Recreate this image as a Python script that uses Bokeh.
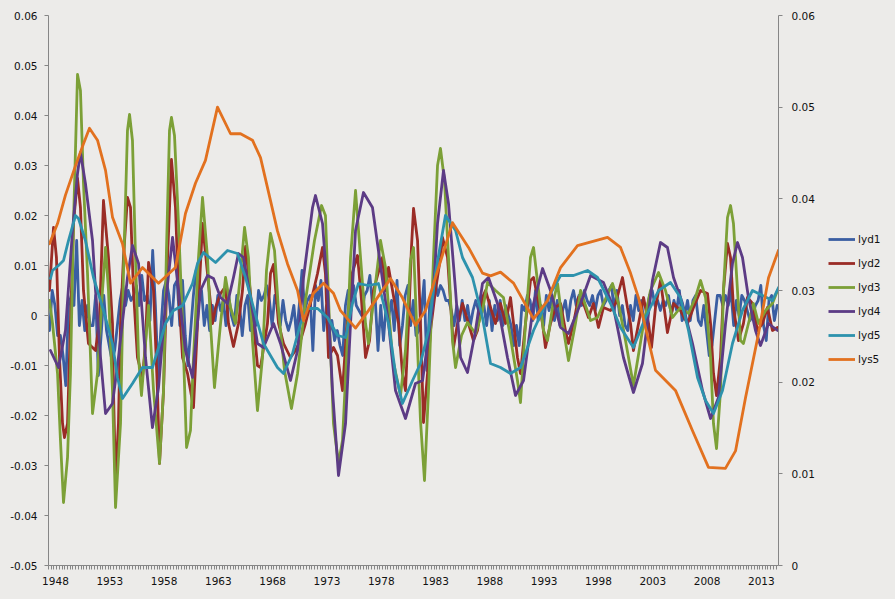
from bokeh.plotting import figure
from bokeh.layouts import row
from bokeh.models import (Range1d, LinearAxis, FixedTicker, CustomJSTickFormatter,
                          Legend, LegendItem)
from bokeh.embed import file_html
from bokeh.resources import INLINE

# ---------------- data ----------------
label_years = [1948, 1953, 1958, 1963, 1968, 1973, 1978, 1983, 1988, 1993, 1998, 2003, 2008, 2013]
left_ticks = [-0.05, -0.04, -0.03, -0.02, -0.01, 0.0, 0.01, 0.02, 0.03, 0.04, 0.05, 0.06]
right_ticks = [0.0, 0.01, 0.02, 0.03, 0.04, 0.05, 0.06]

# lyd1: quarterly, 1948Q1 .. 2015Q1
lyd1 = [
    -0.003, 0.005, 0.002, -0.004,   -0.004, -0.008, -0.014, 0.002,
    0.004, 0.002, 0.015, -0.002,    0.003, -0.003, 0.002, -0.002,
    -0.002, 0.004, -0.012, -0.004,  0.004, -0.003, -0.006, -0.009,
    -0.007, -0.002, 0.003, 0.006,   0.002, 0.005, 0.003, 0.004,
    0.006, 0.002, 0.008, 0.003,     0.004, -0.001, 0.013, 0.002,
    -0.012, -0.003, 0.005, 0.007,   0.004, -0.002, 0.006, 0.007,
    -0.002, 0.007, -0.004, -0.010,  -0.003, 0.004, 0.009, 0.005,
    0.005, -0.002, 0.002, -0.003,   0.002, -0.001, 0.004, 0.001,
    0.003, -0.002, 0.004, 0.000,    -0.002, 0.004, 0.002, -0.004,
    0.002, 0.004, -0.003, 0.001,    -0.002, 0.005, 0.003, 0.004,
    0.006, 0.003, -0.002, 0.004,    0.002, -0.002, 0.003, -0.001,
    -0.003, -0.001, 0.002, -0.004,  0.002, 0.009, 0.001, 0.003,
    0.004, -0.007, 0.006, 0.003,    0.007, -0.003, 0.002, -0.004,
    -0.001, -0.005, -0.003, -0.006, -0.008, 0.002, 0.005, 0.003,
    0.006, 0.002, 0.001, 0.000,     0.004, 0.005, 0.008, 0.002,
    0.003, -0.007, 0.002, -0.005,   0.002, 0.000, 0.003, -0.003,
    0.007, -0.006, -0.002, 0.004,   0.006, -0.002, 0.003, -0.004,
    -0.003, 0.001, 0.007, -0.011,   0.002, 0.005, 0.007, 0.004,
    0.006, 0.005, 0.003, 0.003,     0.001, -0.002, 0.002, -0.001,
    0.003, -0.001, 0.002, -0.002,   0.001, 0.003, 0.001, 0.004,
    0.002, -0.002, 0.003, -0.003,   0.002, -0.001, 0.003, -0.002,
    0.002, 0.000, -0.002, -0.006,   -0.002, -0.006, 0.002, 0.001,
    0.004, 0.003, -0.001, 0.005,    -0.001, 0.002, -0.002, 0.004,
    0.001, 0.004, -0.001, 0.003,    -0.002, 0.001, 0.003, -0.001,
    0.003, 0.005, 0.002, 0.004,     0.002, 0.005, 0.003, 0.002,
    0.004, 0.001, 0.004, 0.005,     0.002, 0.003, 0.005, 0.006,
    0.001, 0.005, 0.000, 0.002,     -0.002, -0.003, 0.002, -0.001,
    0.004, 0.001, 0.003, -0.002,    0.001, 0.004, 0.005, 0.002,
    0.003, 0.001, 0.003, 0.002,     0.004, 0.000, 0.003, 0.001,
    0.005, -0.001, 0.000, 0.003,    -0.001, 0.003, 0.004, -0.001,
    -0.002, 0.002, -0.003, -0.008,  -0.006, -0.001, 0.004, 0.004,
    0.002, 0.004, 0.002, 0.005,     -0.002, 0.003, 0.000, 0.004,
    0.003, 0.001, -0.001, 0.000,    0.002, 0.003, 0.006, -0.002,
    -0.005, 0.003, 0.004, -0.001,   0.002,
]
lyd1_t = [1948 + 0.25 * i for i in range(len(lyd1))]

lyd2_t = [1948.00, 1948.37, 1948.64, 1948.92, 1949.20, 1949.38, 1949.66, 1949.93, 1950.21, 1950.58,
          1950.85, 1951.13, 1951.59, 1952.24, 1952.60, 1952.97, 1953.43, 1953.80, 1953.89, 1954.08,
          1954.35, 1954.54, 1954.81, 1955.18, 1955.46, 1955.73, 1956.10, 1956.56, 1956.84, 1957.12,
          1957.58, 1957.94, 1958.13, 1958.50, 1958.87, 1959.23, 1959.60, 1959.88, 1960.25, 1960.71,
          1961.26, 1961.63, 1962.09, 1962.55, 1963.01, 1963.29, 1963.75, 1964.21, 1964.48, 1964.94,
          1965.40, 1965.77, 1966.05, 1966.32, 1966.78, 1967.15, 1967.43, 1968.07, 1968.35, 1968.63,
          1969.09, 1969.55, 1970.19, 1970.65, 1971.11, 1971.57, 1972.03, 1972.68, 1973.14, 1973.41,
          1973.69, 1974.15, 1974.52, 1974.98, 1975.35, 1975.81, 1976.36, 1976.73, 1977.10, 1977.47,
          1977.83, 1978.66, 1978.94, 1979.22, 1979.86, 1980.14, 1980.50, 1980.78, 1981.06, 1981.33,
          1981.52, 1981.89, 1982.16, 1982.44, 1982.81, 1983.08, 1983.54, 1984.00, 1984.19, 1984.65,
          1985.20, 1985.57, 1986.03, 1986.58, 1987.04, 1987.41, 1987.87, 1988.15, 1988.61, 1989.07,
          1989.53, 1989.99, 1990.45, 1990.73, 1991.09, 1991.37, 1991.83, 1992.29, 1992.57, 1992.94,
          1993.40, 1993.67, 1994.13, 1994.59, 1995.06, 1995.51, 1995.79, 1996.25, 1996.71, 1997.17,
          1997.63, 1998.09, 1998.55, 1999.01, 1999.66, 2000.12, 2000.76, 2001.22, 2001.50, 2001.77,
          2002.24, 2002.70, 2003.16, 2003.43, 2003.80, 2004.26, 2004.90, 2005.46, 2006.10, 2006.75,
          2007.30, 2007.95, 2008.59, 2008.87, 2009.14, 2009.42, 2009.79, 2010.06, 2010.43, 2010.71,
          2010.98, 2011.44, 2011.90, 2012.27, 2012.73, 2013.19, 2013.65, 2014.11, 2014.57, 2015.04]
lyd2 = [0.0050, 0.0176, 0.0116, -0.0084, -0.0216, -0.0244, -0.0216, -0.0016, 0.0184, 0.0274,
        0.0216, 0.0050, -0.0056, -0.0070, -0.0010, 0.0230, 0.0116, -0.0016, -0.0150, -0.0330,
        -0.0216, -0.0016, 0.0116, 0.0236, 0.0216, 0.0050, -0.0084, -0.0124, -0.0056, 0.0106,
        0.0050, -0.0150, -0.0296, -0.0150, 0.0116, 0.0312, 0.0216, 0.0050, -0.0084, -0.0116,
        -0.0184, -0.0016, 0.0184, 0.0084, -0.0016, 0.0016, 0.0044, 0.0058, -0.0016, -0.0062,
        -0.0016, 0.0050, 0.0138, 0.0084, -0.0016, -0.0100, -0.0104, -0.0016, 0.0084, 0.0102,
        -0.0016, -0.0056, -0.0084, -0.0070, -0.0050, -0.0016, 0.0024, 0.0084, 0.0136, 0.0084,
        -0.0084, -0.0064, -0.0080, -0.0150, -0.0030, 0.0080, 0.0120, 0.0030, -0.0084, -0.0050,
        0.0050, 0.0116, 0.0050, 0.0096, 0.0016, -0.0016, -0.0116, -0.0150, -0.0016, 0.0136,
        0.0214, 0.0150, -0.0016, -0.0214, -0.0116, -0.0030, 0.0050, 0.0116, 0.0156, 0.0116,
        -0.0064, -0.0016, 0.0024, -0.0016, -0.0050, -0.0030, 0.0036, 0.0050, 0.0016, -0.0016,
        0.0024, -0.0016, 0.0036, -0.0016, -0.0084, -0.0116, -0.0016, 0.0070, 0.0076, 0.0036,
        -0.0016, -0.0064, -0.0016, 0.0016, 0.0024, -0.0030, -0.0056, -0.0016, 0.0036, 0.0024,
        -0.0004, 0.0024, -0.0024, 0.0016, 0.0010, 0.0024, 0.0076, 0.0016, -0.0016, -0.0070,
        -0.0016, 0.0036, -0.0016, -0.0064, 0.0016, 0.0070, -0.0034, 0.0024, 0.0010, -0.0016,
        0.0016, 0.0050, 0.0044, -0.0016, -0.0116, -0.0160, -0.0084, 0.0050, 0.0144, 0.0116,
        0.0016, -0.0050, -0.0016, 0.0036, 0.0024, -0.0030, -0.0016, 0.0016, -0.0030, -0.0024]

lyd3_t = [1948.00, 1948.28, 1948.74, 1949.01, 1949.29, 1949.66, 1949.93, 1950.21, 1950.58, 1950.85,
          1951.13, 1951.50, 1951.78, 1951.96, 1952.42, 1952.88, 1953.16, 1953.43, 1953.80, 1954.08,
          1954.54, 1954.81, 1955.18, 1955.37, 1955.64, 1955.92, 1956.20, 1956.47, 1957.12, 1957.58,
          1958.13, 1958.50, 1958.77, 1959.05, 1959.23, 1959.51, 1959.88, 1960.25, 1960.62, 1960.98,
          1961.26, 1961.72, 1962.09, 1962.55, 1962.82, 1963.19, 1963.75, 1964.21, 1964.67, 1965.13,
          1965.59, 1965.96, 1966.32, 1966.69, 1967.15, 1967.61, 1967.98, 1968.35, 1968.72, 1969.09,
          1969.64, 1970.28, 1970.84, 1971.57, 1972.03, 1972.40, 1973.05, 1973.41, 1973.78, 1974.15,
          1974.61, 1974.98, 1975.35, 1975.72, 1976.18, 1976.64, 1977.10, 1977.37, 1978.02, 1978.48,
          1978.94, 1979.58, 1980.32, 1980.78, 1981.24, 1981.52, 1981.79, 1982.16, 1982.53, 1982.90,
          1983.36, 1983.73, 1984.00, 1984.37, 1984.74, 1985.11, 1985.39, 1985.94, 1986.49, 1987.23,
          1987.87, 1988.33, 1989.07, 1989.80, 1990.45, 1991.09, 1991.37, 1991.83, 1992.29, 1992.57,
          1993.03, 1993.49, 1993.86, 1994.41, 1994.78, 1995.24, 1995.79, 1996.43, 1996.90, 1997.82,
          1998.46, 1999.01, 1999.84, 2000.39, 2001.04, 2001.77, 2002.60, 2003.34, 2004.08, 2004.72,
          2005.37, 2006.10, 2006.84, 2007.48, 2007.95, 2008.41, 2008.87, 2009.14, 2009.42, 2009.79,
          2010.06, 2010.43, 2010.71, 2010.98, 2011.35, 2011.63, 2011.90, 2012.36, 2012.82, 2013.29,
          2013.93, 2014.57, 2015.04]
lyd3 = [0.0030, -0.0016, -0.0116, -0.0250, -0.0374, -0.0284, -0.0116, 0.0184, 0.0482, 0.0450,
        0.0264, 0.0084, -0.0084, -0.0196, -0.0116, 0.0050, 0.0136, 0.0050, -0.0150, -0.0384,
        -0.0216, 0.0084, 0.0370, 0.0402, 0.0350, 0.0116, -0.0084, -0.0160, 0.0020, -0.0150,
        -0.0296, -0.0150, 0.0130, 0.0370, 0.0396, 0.0360, 0.0184, -0.0016, -0.0264, -0.0230,
        -0.0084, 0.0116, 0.0236, 0.0116, -0.0016, -0.0144, -0.0016, 0.0076, 0.0016, -0.0016,
        0.0084, 0.0176, 0.0116, -0.0050, -0.0190, -0.0084, 0.0090, 0.0164, 0.0130, 0.0010,
        -0.0110, -0.0186, -0.0116, 0.0030, 0.0096, 0.0150, 0.0220, 0.0200, -0.0016, -0.0216,
        -0.0296, -0.0250, -0.0084, 0.0116, 0.0250, 0.0116, -0.0016, -0.0056, 0.0064, 0.0150,
        0.0096, -0.0084, -0.0160, -0.0070, 0.0110, 0.0136, -0.0010, -0.0210, -0.0330, -0.0150,
        0.0116, 0.0300, 0.0334, 0.0270, 0.0116, -0.0050, -0.0104, -0.0040, -0.0014, -0.0036,
        0.0010, 0.0066, 0.0050, 0.0036, -0.0044, -0.0130, -0.0174, -0.0016, 0.0116, 0.0136,
        0.0050, -0.0030, -0.0050, 0.0030, 0.0064, -0.0016, -0.0090, -0.0016, 0.0050, -0.0010,
        -0.0004, 0.0024, 0.0064, 0.0024, -0.0050, -0.0140, -0.0030, 0.0050, 0.0086, 0.0050,
        -0.0004, 0.0016, 0.0004, 0.0036, 0.0070, 0.0036, -0.0084, -0.0216, -0.0266, -0.0150,
        0.0050, 0.0196, 0.0220, 0.0184, 0.0050, -0.0050, -0.0056, -0.0016, 0.0024, -0.0016,
        0.0010, 0.0024, 0.0050]

lyd4_t = [1948.09, 1948.83, 1949.47, 1950.12, 1950.58, 1950.85, 1951.31, 1951.96, 1952.24, 1952.70,
          1953.16, 1953.80, 1954.35, 1955.18, 1955.64, 1956.20, 1956.84, 1957.48, 1958.04, 1958.68,
          1959.33, 1959.88, 1960.52, 1961.17, 1961.90, 1962.55, 1963.10, 1963.75, 1964.39, 1964.94,
          1965.40, 1965.86, 1966.51, 1967.15, 1967.70, 1968.63, 1969.27, 1970.19, 1970.84, 1971.39,
          1972.22, 1972.49, 1973.14, 1973.60, 1974.06, 1974.61, 1975.26, 1975.72, 1976.18, 1976.91,
          1977.74, 1978.29, 1979.22, 1979.86, 1980.78, 1981.70, 1982.35, 1983.27, 1983.73, 1984.28,
          1984.74, 1985.39, 1985.85, 1986.49, 1987.23, 1987.87, 1988.42, 1989.25, 1990.17, 1990.91,
          1991.65, 1992.57, 1993.40, 1994.13, 1995.06, 1995.79, 1996.90, 1997.82, 1999.01, 1999.93,
          2000.85, 2001.77, 2002.60, 2003.52, 2004.26, 2004.90, 2005.46, 2006.29, 2007.21, 2008.13,
          2008.87, 2009.60, 2010.25, 2010.89, 2011.35, 2011.81, 2012.36, 2013.01, 2013.47, 2014.21,
          2015.04]
lyd4 = [-0.0070, -0.0104, -0.0030, 0.0170, 0.0284, 0.0326, 0.0264, 0.0150, 0.0050, -0.0084,
        -0.0196, -0.0176, -0.0084, 0.0076, 0.0140, 0.0104, -0.0084, -0.0224, -0.0144, 0.0024,
        0.0156, 0.0050, -0.0070, -0.0124, 0.0050, 0.0080, 0.0074, 0.0036, 0.0024, 0.0076,
        0.0124, 0.0116, 0.0036, -0.0056, -0.0064, -0.0016, -0.0056, -0.0130, -0.0070, 0.0076,
        0.0216, 0.0240, 0.0184, 0.0050, -0.0150, -0.0320, -0.0216, -0.0016, 0.0170, 0.0246,
        0.0216, 0.0130, -0.0016, -0.0150, -0.0206, -0.0136, -0.0130, 0.0016, 0.0184, 0.0290,
        0.0224, 0.0050, -0.0084, -0.0114, -0.0030, 0.0064, 0.0076, 0.0024, -0.0084, -0.0160,
        -0.0130, 0.0024, 0.0094, 0.0050, -0.0024, -0.0036, 0.0024, 0.0080, 0.0066, 0.0016,
        -0.0084, -0.0154, -0.0096, 0.0070, 0.0146, 0.0136, 0.0076, 0.0024, -0.0056, -0.0150,
        -0.0206, -0.0164, -0.0016, 0.0104, 0.0146, 0.0116, 0.0036, -0.0030, -0.0060, -0.0016,
        -0.0030]

lyd5_t = [1948.09, 1948.28, 1948.83, 1949.29, 1949.75, 1950.39, 1950.67, 1951.31, 1952.05, 1952.97,
          1953.80, 1954.26, 1954.72, 1955.64, 1956.56, 1957.48, 1958.04, 1958.68, 1959.42, 1960.25,
          1961.17, 1961.63, 1962.18, 1963.29, 1964.39, 1965.31, 1966.05, 1966.78, 1967.70, 1968.99,
          1969.55, 1970.38, 1971.11, 1971.76, 1972.68, 1973.60, 1974.52, 1975.26, 1975.90, 1976.45,
          1977.37, 1978.29, 1979.22, 1979.86, 1980.50, 1981.43, 1982.16, 1982.90, 1983.54, 1984.46,
          1985.39, 1986.03, 1986.95, 1987.87, 1988.61, 1989.53, 1990.45, 1991.37, 1992.57, 1994.13,
          1995.06, 1996.25, 1997.54, 1998.46, 1999.66, 2000.58, 2001.77, 2002.88, 2004.08, 2005.18,
          2006.10, 2006.84, 2007.67, 2008.41, 2009.14, 2009.97, 2010.89, 2011.81, 2012.73, 2013.65,
          2014.57, 2015.13]
lyd5 = [0.0074, 0.0090, 0.0100, 0.0110, 0.0150, 0.0200, 0.0194, 0.0150, 0.0076, 0.0010,
        -0.0056, -0.0124, -0.0166, -0.0136, -0.0104, -0.0104, -0.0064, -0.0016, 0.0010, 0.0020,
        0.0064, 0.0104, 0.0126, 0.0106, 0.0130, 0.0124, 0.0076, 0.0016, -0.0056, -0.0104,
        -0.0116, -0.0076, -0.0016, 0.0014, 0.0014, -0.0004, -0.0040, -0.0044, 0.0024, 0.0064,
        0.0060, 0.0064, -0.0016, -0.0116, -0.0176, -0.0130, -0.0096, -0.0030, 0.0084, 0.0200,
        0.0170, 0.0116, 0.0076, -0.0004, -0.0096, -0.0104, -0.0116, -0.0104, -0.0030, 0.0044,
        0.0080, 0.0080, 0.0090, 0.0076, 0.0024, -0.0024, -0.0064, -0.0004, 0.0050, 0.0066,
        0.0036, -0.0030, -0.0124, -0.0170, -0.0196, -0.0150, -0.0056, 0.0010, 0.0050, 0.0040,
        0.0030, 0.0056]

lys5_t = [1948.00, 1948.74, 1949.47, 1950.39, 1951.13, 1951.68, 1952.42, 1953.16, 1953.80, 1954.72,
          1955.46, 1956.56, 1958.04, 1959.60, 1960.52, 1961.44, 1962.36, 1963.47, 1964.67, 1965.59,
          1966.69, 1967.43, 1968.35, 1968.99, 1969.92, 1970.84, 1971.39, 1972.31, 1973.23, 1974.15,
          1974.80, 1976.18, 1977.37, 1979.40, 1980.50, 1981.70, 1982.62, 1983.54, 1985.11, 1986.58,
          1987.87, 1988.61, 1989.53, 1990.73, 1992.57, 1993.86, 1995.06, 1996.62, 1998.46, 1999.38,
          2000.58, 2001.50, 2002.24, 2003.80, 2005.64, 2007.21, 2008.68, 2010.24, 2011.17, 2012.09,
          2013.29, 2014.21, 2015.13]
lys5 = [0.0351, 0.0373, 0.0404, 0.0436, 0.0460, 0.0477, 0.0464, 0.0431, 0.0380, 0.0351,
        0.0308, 0.0325, 0.0308, 0.0325, 0.0384, 0.0417, 0.0442, 0.0500, 0.0471, 0.0471,
        0.0464, 0.0445, 0.0398, 0.0365, 0.0329, 0.0300, 0.0267, 0.0297, 0.0308, 0.0297,
        0.0278, 0.0259, 0.0278, 0.0313, 0.0292, 0.0262, 0.0278, 0.0314, 0.0374, 0.0347,
        0.0319, 0.0316, 0.0320, 0.0308, 0.0269, 0.0289, 0.0325, 0.0349, 0.0355, 0.0358,
        0.0347, 0.0319, 0.0292, 0.0213, 0.0191, 0.0147, 0.0107, 0.0106, 0.0125, 0.0183,
        0.0253, 0.0314, 0.0344]

names = ["lyd1", "lyd2", "lyd3", "lyd4", "lyd5", "lys5"]
colors = ["#3a5ea2", "#9a2c26", "#7ca037", "#5c3b85", "#2d92ad", "#e2711f"]

# ---------------- main chart ----------------
BG = "#ecebe9"
AX = "#868686"
FONT = "DejaVu Sans"
LW = 2.8

p = figure(width=820, height=599,
           x_range=Range1d(1947.908, 2015.127), y_range=Range1d(-0.05, 0.06),
           output_backend="svg", toolbar_location=None,
           min_border_left=48, min_border_right=42, min_border_top=15, min_border_bottom=34,
           background_fill_color=BG, border_fill_color=BG, outline_line_color=None,
           x_axis_type=None, y_axis_type=None)
p.extra_y_ranges = {"right": Range1d(0.0, 0.06)}
p.xgrid.visible = False
p.ygrid.visible = False

yfmt = CustomJSTickFormatter(code="return Math.abs(tick) < 1e-9 ? '0' : tick.toFixed(2);")

yl = LinearAxis(ticker=FixedTicker(ticks=left_ticks), formatter=yfmt)
yr = LinearAxis(y_range_name="right", ticker=FixedTicker(ticks=right_ticks), formatter=yfmt)
xa = LinearAxis(ticker=FixedTicker(ticks=[y + 0.55 for y in label_years],
                                   minor_ticks=[1947.908 + 0.25 * k for k in range(270)]),
                formatter=CustomJSTickFormatter(code="return Math.floor(tick + 1e-6).toString();"))

for ax in (yl, yr, xa):
    ax.axis_line_color = AX
    ax.axis_line_width = 1
    ax.major_tick_line_color = AX
    ax.major_tick_in = 0
    ax.major_tick_out = 4
    ax.minor_tick_line_color = None
    ax.major_label_text_font = FONT
    ax.major_label_text_font_size = "10.5px"
    ax.major_label_text_color = "#111111"
yl.major_label_standoff = 7
yr.major_label_standoff = 9
xa.major_tick_line_color = None
xa.minor_tick_line_color = AX
xa.minor_tick_in = 0
xa.minor_tick_out = 4
xa.major_label_standoff = 7

p.add_layout(yl, "left")
p.add_layout(yr, "right")
p.add_layout(xa, "below")

series = [(lyd1_t, lyd1), (lyd2_t, lyd2), (lyd3_t, lyd3), (lyd4_t, lyd4), (lyd5_t, lyd5), (lys5_t, lys5)]
for i, (tx, vy) in enumerate(series):
    kw = {"y_range_name": "right"} if names[i] == "lys5" else {}
    p.line(tx, vy, line_color=colors[i], line_width=LW, line_join="round", line_cap="round", **kw)

# ---------------- legend panel ----------------
leg = figure(width=75, height=599, x_range=Range1d(0, 1), y_range=Range1d(0, 1),
             output_backend="svg", toolbar_location=None,
             min_border_left=0, min_border_right=0, min_border_top=0, min_border_bottom=0,
             background_fill_color=BG, border_fill_color=BG, outline_line_color=None,
             x_axis_type=None, y_axis_type=None)
leg.xgrid.visible = False
leg.ygrid.visible = False
nan = float("nan")
items = []
for i in range(len(names)):
    r = leg.line([nan, nan], [nan, nan], line_color=colors[i], line_width=LW, line_cap="butt")
    items.append(LegendItem(label=names[i], renderers=[r]))

legend = Legend(items=items, location=(8, 196))
legend.border_line_color = None
legend.background_fill_alpha = 0
legend.padding = 0
legend.margin = 0
legend.spacing = 4
legend.glyph_height = 20
legend.label_height = 20
legend.glyph_width = 27
legend.label_standoff = 3
legend.label_text_font = FONT
legend.label_text_font_size = "10.5px"
legend.label_text_color = "#111111"
leg.add_layout(legend, "center")

layout = row(p, leg, spacing=0)
layout.styles = {"background-color": BG}
open("out.html", "w").write(file_html(layout, INLINE))
